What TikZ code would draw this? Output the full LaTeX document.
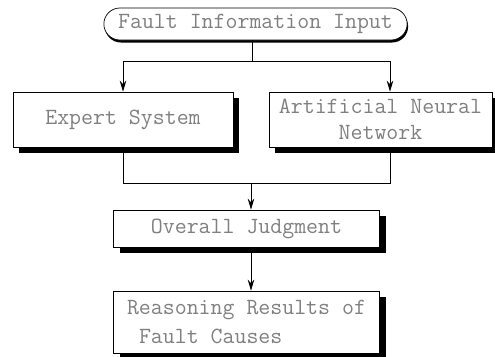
\documentclass[tikz,border=0pt]{standalone}
\usepackage{fontspec}
\usetikzlibrary{arrows.meta, shapes.misc, shadows}

\begin{document}
\begin{tikzpicture}[
        box/.style={rectangle, draw, fill=white, thin, align=center,
            font=\ttfamily\fontsize{13.2}{15}\selectfont, text=black!50,
            drop shadow={shadow xshift=0.12cm, shadow yshift=-0.12cm, fill=black, opacity=1}},
        start/.style={rounded rectangle, draw, fill=white, thin,
            font=\ttfamily\fontsize{13.2}{15}\selectfont, text=black!50,
            drop shadow={shadow xshift=0.02cm, shadow yshift=-0.05cm, fill=black, opacity=1}},
        arr/.style={-{Stealth[length=2.2mm, width=1.3mm]}, thin},
        line/.style={thin}
    ]
        \useasboundingbox (0,0) rectangle (9.9,7.12);

        % Input
        \node[start, minimum width=6.3cm, minimum height=0.64cm] (input) at (5.11, 6.64) {Fault Information Input};
        \coordinate (split) at (5.04, 5.9);

        % Two diagnosis branches
        \node[box, minimum width=4.4cm, minimum height=1.1cm] (es) at (2.46, 4.73) {Expert System};
        \node[box, minimum width=4.46cm, minimum height=1.1cm] (ann) at (7.61, 4.73) {Artificial Neural\\Network};
        \coordinate (merge) at (5.02, 3.46);

        \draw[line] (input.south -| split) -- (split);
        \draw[arr] (split) -| (es.north);
        \draw[arr] (split) -| ([xshift=0.19cm]ann.north);
        \draw[line] (es.south) |- (merge);
        \draw[line] ([xshift=0.19cm]ann.south) |- (merge);

        % Judgment and result
        \node[box, minimum width=5.32cm, minimum height=0.74cm] (judge) at (4.93, 2.55) {Overall Judgment};
        \node[box, align=left, minimum width=5.32cm, minimum height=1.24cm, font=\ttfamily\fontsize{13.2}{17}\selectfont] (result) at (4.93, 0.68) {Reasoning Results of\\\hspace*{1.2ex}Fault Causes};

        \draw[arr] (merge) -- (merge |- judge.north);
        \draw[arr] (judge.south -| merge) -- (result.north -| merge);
    \end{tikzpicture}
\end{document}
